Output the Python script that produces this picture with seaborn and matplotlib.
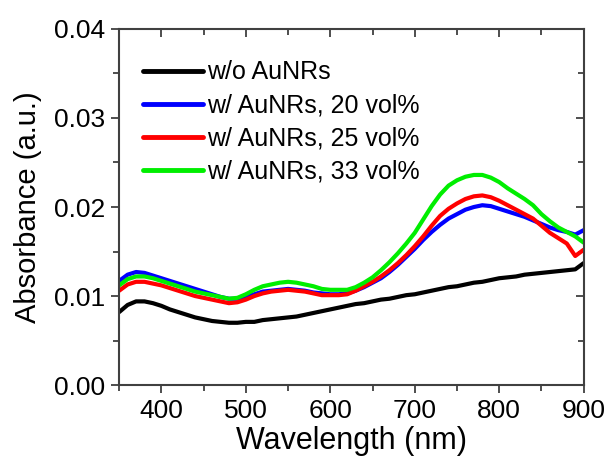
import numpy as np
import pandas as pd
import matplotlib
matplotlib.use("Agg")
import matplotlib.pyplot as plt
from matplotlib.ticker import MultipleLocator, FormatStrFormatter
import seaborn as sns

# wavelength grid (nm) and absorbance
wavelength = list(range(350, 901, 10))

abs_no_aunr = [0.0082, 0.0090, 0.0094, 0.0094, 0.0092, 0.0089, 0.0085, 0.0082, 0.0079, 0.0076,
               0.0074, 0.0072, 0.0071, 0.0070, 0.0070, 0.0071, 0.0071, 0.0073, 0.0074, 0.0075,
               0.0076, 0.0077, 0.0079, 0.0081, 0.0083, 0.0085, 0.0087, 0.0089, 0.0091, 0.0092,
               0.0094, 0.0096, 0.0097, 0.0099, 0.0101, 0.0102, 0.0104, 0.0106, 0.0108, 0.0110,
               0.0111, 0.0113, 0.0115, 0.0116, 0.0118, 0.0120, 0.0121, 0.0122, 0.0124, 0.0125,
               0.0126, 0.0127, 0.0128, 0.0129, 0.0130, 0.0137]

abs_20 = [0.0117, 0.0124, 0.0127, 0.0126, 0.0123, 0.0120, 0.0117, 0.0114, 0.0111, 0.0108,
          0.0105, 0.0102, 0.0099, 0.0097, 0.0097, 0.0099, 0.0102, 0.0105, 0.0106, 0.0107,
          0.0108, 0.0107, 0.0106, 0.0104, 0.0103, 0.0102, 0.0102, 0.0103, 0.0106, 0.0110,
          0.0115, 0.0120, 0.0127, 0.0135, 0.0144, 0.0153, 0.0163, 0.0172, 0.0180, 0.0187,
          0.0192, 0.0197, 0.0200, 0.0202, 0.0201, 0.0198, 0.0195, 0.0192, 0.0189, 0.0185,
          0.0181, 0.0177, 0.0174, 0.0172, 0.0169, 0.0174]

abs_25 = [0.0106, 0.0113, 0.0116, 0.0116, 0.0114, 0.0112, 0.0109, 0.0106, 0.0103, 0.0100,
          0.0098, 0.0096, 0.0094, 0.0092, 0.0093, 0.0096, 0.0100, 0.0103, 0.0105, 0.0106,
          0.0107, 0.0106, 0.0105, 0.0103, 0.0101, 0.0101, 0.0101, 0.0102, 0.0106, 0.0111,
          0.0116, 0.0122, 0.0129, 0.0137, 0.0146, 0.0156, 0.0167, 0.0179, 0.0190, 0.0198,
          0.0204, 0.0209, 0.0212, 0.0213, 0.0211, 0.0207, 0.0202, 0.0197, 0.0192, 0.0187,
          0.0179, 0.0171, 0.0165, 0.0159, 0.0145, 0.0152]

abs_33 = [0.0112, 0.0119, 0.0122, 0.0122, 0.0120, 0.0117, 0.0114, 0.0111, 0.0108, 0.0105,
          0.0103, 0.0101, 0.0099, 0.0097, 0.0098, 0.0102, 0.0107, 0.0111, 0.0113, 0.0115,
          0.0116, 0.0115, 0.0113, 0.0111, 0.0108, 0.0107, 0.0107, 0.0107, 0.0110, 0.0115,
          0.0121, 0.0129, 0.0138, 0.0148, 0.0159, 0.0171, 0.0186, 0.0201, 0.0214, 0.0224,
          0.0230, 0.0234, 0.0236, 0.0236, 0.0233, 0.0228, 0.0221, 0.0215, 0.0209, 0.0202,
          0.0192, 0.0184, 0.0177, 0.0172, 0.0167, 0.0160]

labels = ["w/o AuNRs", "w/ AuNRs, 20 vol%", "w/ AuNRs, 25 vol%", "w/ AuNRs, 33 vol%"]
colors = ["#000000", "#0000ff", "#ff0000", "#00ee00"]

frames = []
for lab, vals in zip(labels, [abs_no_aunr, abs_20, abs_25, abs_33]):
    frames.append(pd.DataFrame({"wl": wavelength, "absorb": vals, "sample": lab}))
df = pd.concat(frames, ignore_index=True)

sns.set_style("ticks")
plt.rcParams["font.family"] = ["Liberation Sans", "DejaVu Sans"]
plt.rcParams["text.color"] = "black"
plt.rcParams["axes.labelcolor"] = "black"
plt.rcParams["xtick.labelcolor"] = "black"
plt.rcParams["ytick.labelcolor"] = "black"

fig = plt.figure(figsize=(6.08, 4.59), dpi=100)
ax = fig.add_axes([0.196, 0.161, 0.764, 0.776])

sns.lineplot(data=df, x="wl", y="absorb", hue="sample", hue_order=labels,
             palette=dict(zip(labels, colors)), linewidth=3, ax=ax)

ax.set_xlim(350, 900)
ax.set_ylim(0, 0.04)
ax.xaxis.set_major_locator(MultipleLocator(100))
ax.xaxis.set_minor_locator(MultipleLocator(50))
ax.yaxis.set_major_locator(MultipleLocator(0.01))
ax.yaxis.set_minor_locator(MultipleLocator(0.005))
ax.yaxis.set_major_formatter(FormatStrFormatter("%.2f"))

axis_col = "#404040"
for s in ax.spines.values():
    s.set_visible(True)
    s.set_color(axis_col)
    s.set_linewidth(1.5)

ax.tick_params(which="major", direction="out", length=6, width=1.3, color=axis_col,
               labelsize=19, pad=4)
ax.tick_params(which="minor", direction="out", length=4, width=1.3, color=axis_col)

# inward ticks on the top and right edges
top = ax.secondary_xaxis("top")
top.xaxis.set_major_locator(MultipleLocator(100))
top.xaxis.set_minor_locator(MultipleLocator(50))
top.tick_params(which="major", direction="in", length=6, width=1.3, color=axis_col, labeltop=False)
top.tick_params(which="minor", direction="in", length=4, width=1.3, color=axis_col)
right = ax.secondary_yaxis("right")
right.yaxis.set_major_locator(MultipleLocator(0.01))
right.yaxis.set_minor_locator(MultipleLocator(0.005))
right.tick_params(which="major", direction="in", length=6, width=1.3, color=axis_col, labelright=False)
right.tick_params(which="minor", direction="in", length=4, width=1.3, color=axis_col)
for sec in (top, right):
    for s in sec.spines.values():
        s.set_visible(False)

ax.set_xlabel("Wavelength (nm)", fontsize=22, labelpad=2)
ax.set_ylabel("Absorbance (a.u.)", fontsize=21, labelpad=9)

leg = ax.legend(loc="upper left", bbox_to_anchor=(0.03, 0.94), frameon=False,
                fontsize=18, handlelength=2.4, handletextpad=0.15, labelspacing=0.36,
                borderaxespad=0)
for line in leg.get_lines():
    line.set_linewidth(3.5)

fig.savefig("out.png", dpi=100)
